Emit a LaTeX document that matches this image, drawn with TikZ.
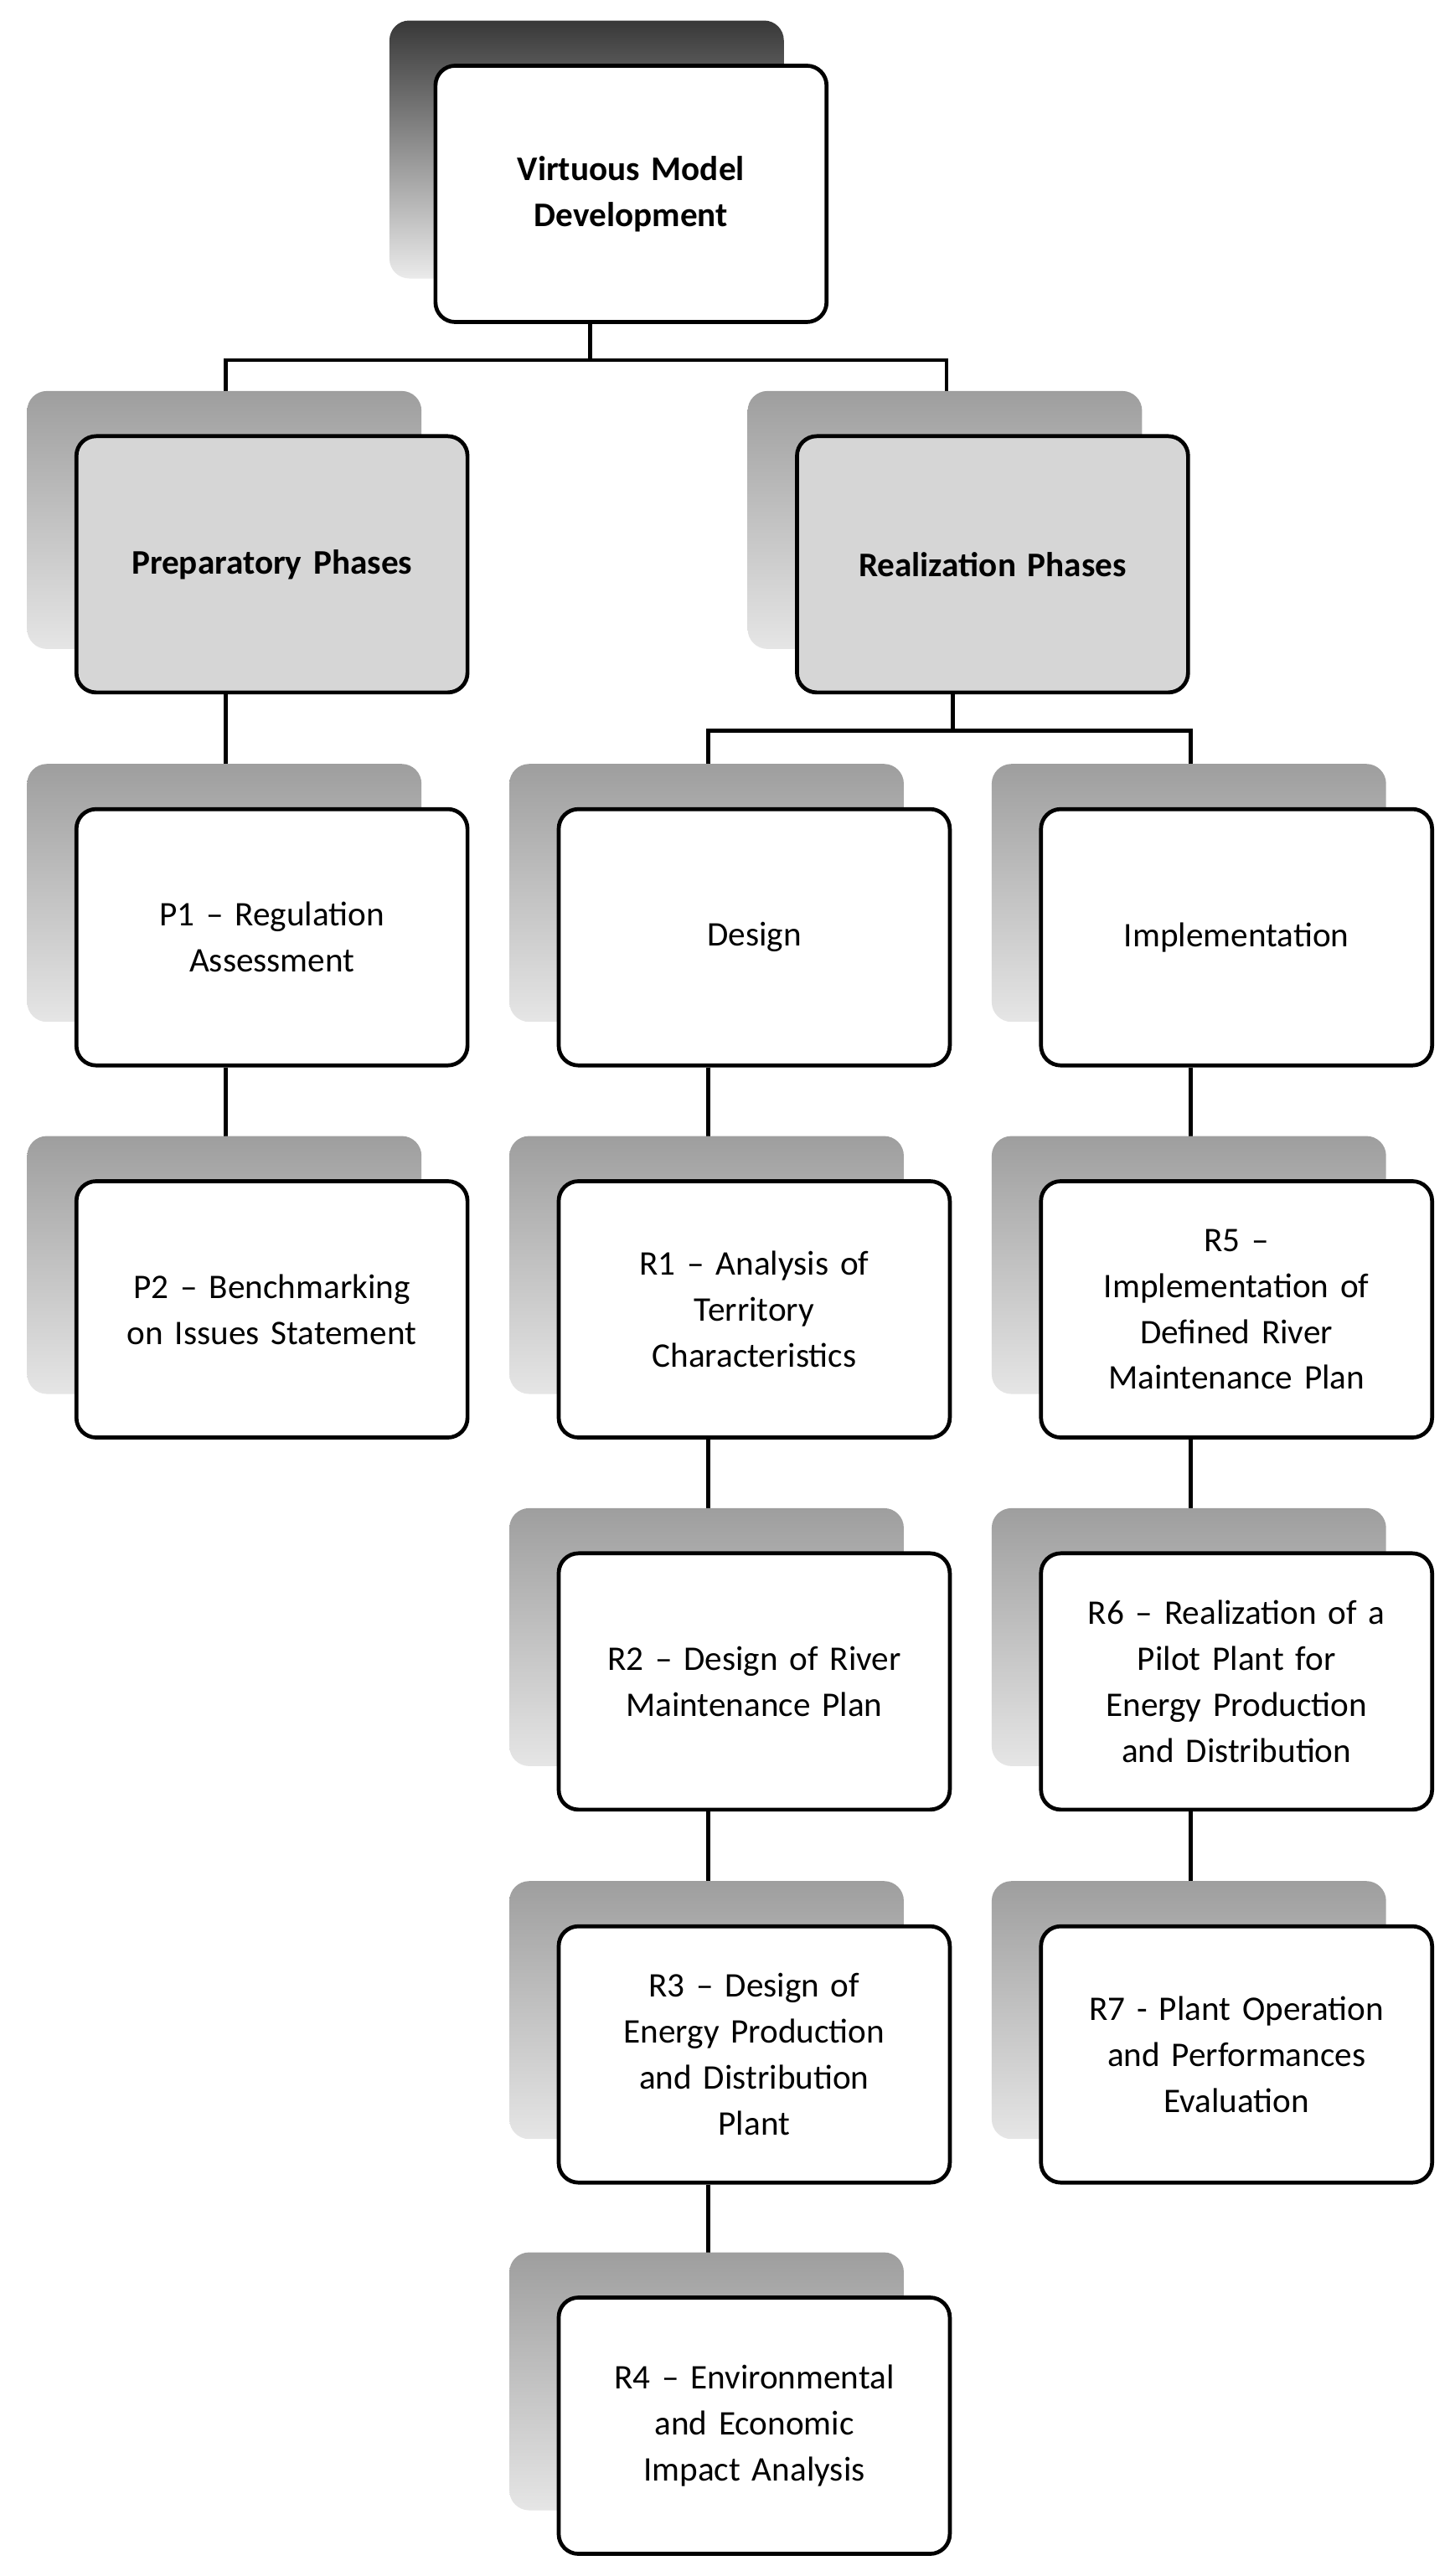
\documentclass[tikz,border=0pt]{standalone}
\usepackage{fontspec}
\setmainfont{Carlito}
\pgfdeclarelayer{bg}
\pgfsetlayers{bg,main}
\tikzset{
  box/.style={draw=black,line width=2.4pt,rounded corners=12pt,minimum width=238pt,minimum height=156pt,text width=215pt,align=center,fill=white,font=\fontsize{21}{28}\selectfont,inner sep=0pt},
  gbox/.style={box,fill=black!16,font=\fontsize{21}{28}\selectfont\bfseries},
  shad/.style={rounded corners=12pt,minimum width=240pt,minimum height=157pt,top color=black!38,bottom color=black!10,inner sep=0pt},
  shadtop/.style={shad,top color=black!78,bottom color=black!8},
  conn/.style={line width=2.4pt}
}
\newcommand{\mybx}[6]{%
  \node[#4] at (#2-29,-#3+27) {};
  \node[#5] (#1) at (#2,-#3) {#6};}
\begin{document}
\begin{tikzpicture}[x=1pt,y=1pt]
\useasboundingbox (0,0) rectangle (885,-1568);
\node[shadtop] at (384-27,-118+27) {};
\node[box,font=\fontsize{21}{28}\selectfont\bfseries] (top) at (384,-118) {Virtuous Model\\Development};
\mybx{prep}{165.5}{343.5}{shad}{gbox}{Preparatory Phases}
\mybx{real}{604}{343.5}{shad}{gbox}{Realization Phases}
\mybx{p1}{165.5}{570.5}{shad}{box}{P1 -- Regulation\\Assessment}
\mybx{des}{459}{570.5}{shad}{box}{Design}
\mybx{imp}{752.5}{570.5}{shad}{box}{Implementation}
\mybx{p2}{165.5}{797}{shad}{box}{P2 -- Benchmarking\\on Issues Statement}
\mybx{r1}{459}{797}{shad}{box}{R1 -- Analysis of\\Territory\\Characteristics}
\mybx{r5}{752.5}{797}{shad}{box}{R5 --\\Implementation of\\Defined River\\Maintenance Plan}
\mybx{r2}{459}{1023.5}{shad}{box}{R2 -- Design of River\\Maintenance Plan}
\mybx{r6}{752.5}{1023.5}{shad}{box}{R6 -- Realization of a\\Pilot Plant for\\Energy Production\\and Distribution}
\mybx{r3}{459}{1250.5}{shad}{box}{R3 -- Design of\\Energy Production\\and Distribution\\Plant}
\mybx{r7}{752.5}{1250.5}{shad}{box}{R7 - Plant Operation\\and Performances\\Evaluation}
\mybx{r4}{459}{1476.5}{shad}{box}{R4 -- Environmental\\and Economic\\Impact Analysis}
\begin{pgfonlayer}{bg}
\draw[conn] ([xshift=-25pt]top.south) -- ++(0,-22) coordinate (tj);
\draw[conn] ([xshift=-28pt]prep.north) |- (tj) -| ([xshift=-28pt]real.north);
\draw[conn] ([xshift=-24pt]real.south) -- ++(0,-22) coordinate (rj);
\draw[conn] ([xshift=-28pt]des.north) |- (rj) -| ([xshift=-28pt]imp.north);
\foreach \a/\b in {prep/p1,p1/p2,des/r1,r1/r2,r2/r3,r3/r4,imp/r5,r5/r6,r6/r7}
  \draw[conn] ([xshift=-28pt]\a.south) -- ([xshift=-28pt]\b.north);
\end{pgfonlayer}
\end{tikzpicture}
\end{document}
